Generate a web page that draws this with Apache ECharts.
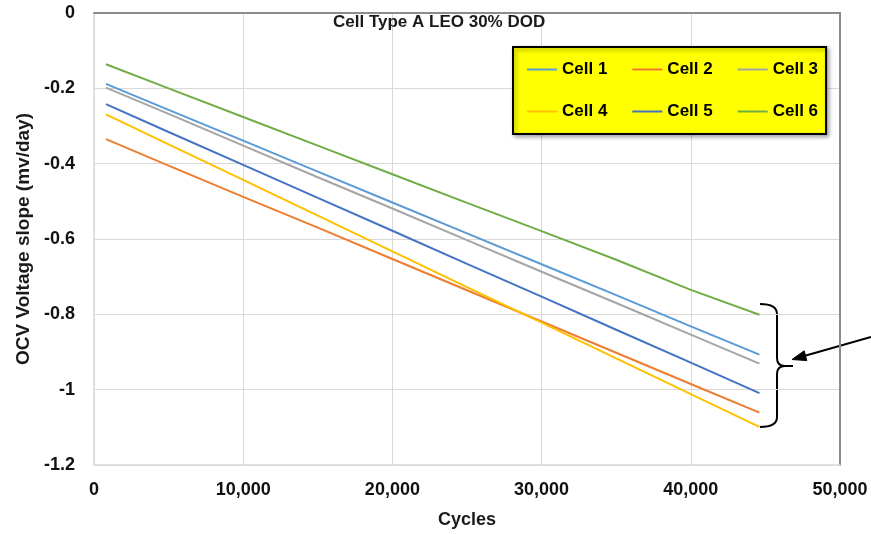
<!DOCTYPE html>
<html>
<head>
<meta charset="utf-8">
<script src="https://cdn.jsdelivr.net/npm/echarts@6/dist/echarts.min.js"></script>
<style>
html,body{margin:0;padding:0;background:#fff;}
#chart{width:871px;height:534px;}
</style>
</head>
<body>
<div id="chart"></div>
<script>
// ---- data ----
var chartTitle = 'Cell Type A LEO 30% DOD';
var xAxisName = 'Cycles';
var yAxisName = 'OCV Voltage slope (mv/day)';
var seriesNames = ['Cell 1', 'Cell 2', 'Cell 3', 'Cell 4', 'Cell 5', 'Cell 6'];
var seriesColors = ['#5B9BD5', '#ED7D31', '#A5A5A5', '#FFC000', '#4472C4', '#70AD47'];
var cycles = [800, 5000, 10000, 15000, 20000, 25000, 30000, 35000, 40000, 44600];
var cell1 = [-0.188, -0.257, -0.339, -0.421, -0.503, -0.585, -0.667, -0.749, -0.832, -0.907];
var cell2 = [-0.335, -0.405, -0.488, -0.570, -0.653, -0.736, -0.819, -0.902, -0.985, -1.061];
var cell3 = [-0.198, -0.268, -0.352, -0.436, -0.519, -0.603, -0.687, -0.770, -0.854, -0.931];
var cell4 = [-0.269, -0.349, -0.443, -0.538, -0.633, -0.728, -0.822, -0.917, -1.012, -1.099];
var cell5 = [-0.242, -0.316, -0.403, -0.491, -0.578, -0.666, -0.753, -0.841, -0.928, -1.009];
var cell6 = [-0.136, -0.200, -0.276, -0.352, -0.428, -0.504, -0.579, -0.655, -0.735, -0.801];
var xMin = 0, xMax = 50000, xStep = 10000;
var yMin = -1.2, yMax = 0, yStep = 0.2;

var allValues = [cell1, cell2, cell3, cell4, cell5, cell6];
var FONT = "'Liberation Sans', Arial, sans-serif";

function pairs(vals) {
  return cycles.map(function (c, i) { return [c, vals[i]]; });
}

var series = seriesNames.map(function (name, k) {
  return {
    name: name,
    type: 'line',
    xAxisIndex: 0,
    yAxisIndex: 0,
    data: pairs(allValues[k]),
    showSymbol: false,
    symbol: 'none',
    lineStyle: { color: seriesColors[k], width: 2 },
    itemStyle: { color: seriesColors[k] },
    animation: false
  };
});

var annStyle = { fill: null, stroke: '#000', lineWidth: 2 };
function curve(x1, y1, cx, cy, x2, y2) {
  return { type: 'bezierCurve', shape: { x1: x1, y1: y1, cpx1: cx, cpy1: cy, x2: x2, y2: y2 }, style: annStyle, silent: true };
}
function seg(x1, y1, x2, y2) {
  return { type: 'line', shape: { x1: x1, y1: y1, x2: x2, y2: y2 }, style: annStyle, silent: true };
}

var chart = echarts.init(document.getElementById('chart'), null, { renderer: 'canvas' });
chart.setOption({
  backgroundColor: '#ffffff',
  animation: false,
  title: {
    text: chartTitle,
    left: 333,
    top: 14,
    padding: 0,
    textStyle: { fontFamily: FONT, fontSize: 17, fontWeight: 'bold', color: '#1a1a1a' }
  },
  legend: {
    data: seriesNames,
    left: 513,
    top: 47,
    width: 300,
    orient: 'horizontal',
    padding: [14, 8, 14, 14],
    itemGap: 25,
    itemWidth: 30,
    itemHeight: 2,
    icon: 'rect',
    backgroundColor: '#FFFF00',
    borderColor: '#000000',
    borderWidth: 2,
    shadowBlur: 4,
    shadowColor: 'rgba(0,0,0,0.35)',
    shadowOffsetX: 2,
    shadowOffsetY: 2,
    textStyle: { fontFamily: FONT, fontSize: 17, fontWeight: 'bold', color: '#000' }
  },
  grid: { left: 94, right: 31, top: 13, bottom: 69, containLabel: false },
  xAxis: [{
    type: 'value',
    min: xMin, max: xMax, interval: xStep,
    name: xAxisName,
    nameLocation: 'middle',
    nameGap: 46,
    nameTextStyle: { fontFamily: FONT, fontSize: 18, fontWeight: 'bold', color: '#1a1a1a' },
    axisLine: { show: true, onZero: false, lineStyle: { color: '#D9D9D9', width: 1.5 } },
    axisTick: { show: false },
    axisLabel: {
      margin: 16,
      fontFamily: FONT, fontSize: 18, fontWeight: 'bold', color: '#111',
      formatter: function (v) { return v.toLocaleString('en-US'); }
    },
    splitLine: { show: true, lineStyle: { color: '#D9D9D9', width: 1 } }
  }, {
    type: 'value', position: 'top',
    min: xMin, max: xMax, interval: xStep,
    axisLine: { show: true, onZero: false, lineStyle: { color: '#8C8C8C', width: 2 } },
    axisTick: { show: false }, axisLabel: { show: false }, splitLine: { show: false }
  }],
  yAxis: [{
    type: 'value',
    min: yMin, max: yMax, interval: yStep,
    name: yAxisName,
    nameLocation: 'middle',
    nameGap: 60,
    nameTextStyle: { fontFamily: FONT, fontSize: 19, fontWeight: 'bold', color: '#1a1a1a' },
    axisLine: { show: true, onZero: false, lineStyle: { color: '#D9D9D9', width: 1.5 } },
    axisTick: { show: false },
    axisLabel: {
      margin: 19,
      fontFamily: FONT, fontSize: 18, fontWeight: 'bold', color: '#111',
      formatter: function (v) { return String(+v.toFixed(1)); }
    },
    splitLine: { show: true, lineStyle: { color: '#D9D9D9', width: 1 } }
  }, {
    type: 'value', position: 'right',
    min: yMin, max: yMax, interval: yStep,
    axisLine: { show: true, onZero: false, lineStyle: { color: '#8C8C8C', width: 2 } },
    axisTick: { show: false }, axisLabel: { show: false }, splitLine: { show: false }
  }],
  series: series,
  graphic: [
    curve(760, 304, 777, 304, 777, 314),
    seg(777, 314, 777, 358),
    curve(777, 358, 777, 366, 785, 366),
    seg(785, 366, 793, 366),
    curve(785, 366, 777, 366, 777, 374),
    seg(777, 374, 777, 417),
    curve(777, 417, 777, 427, 760, 427),
    seg(871, 337, 805, 355.8),
    {
      type: 'polygon',
      shape: { points: [[792, 359.5], [806.8, 360.6], [804.2, 350.8]] },
      style: { fill: '#000', stroke: '#000', lineWidth: 1 },
      silent: true
    }
  ]
});
</script>
</body>
</html>
